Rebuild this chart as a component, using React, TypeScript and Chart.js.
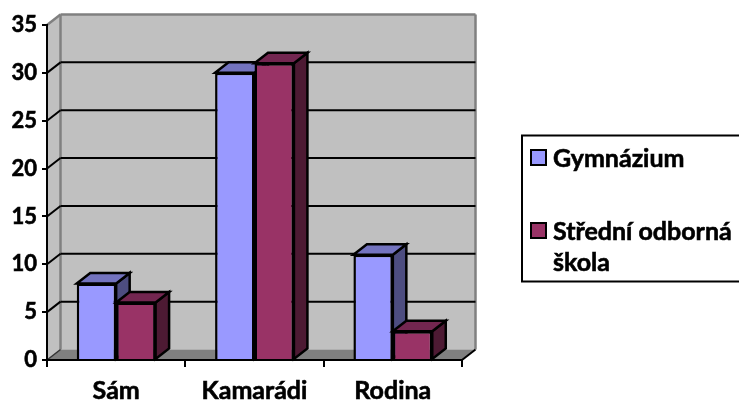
import React, { useEffect, useRef } from "react";
import { Chart, registerables } from "chart.js";

Chart.register(...registerables);

const categories = ["Sám", "Kamarádi", "Rodina"];
const gymnazium = [8, 30, 11];
const stredniSkola = [6, 31, 3];
const seriesNames = ["Gymnázium", "Střední odborná škola"];
const yTicks = [0, 5, 10, 15, 20, 25, 30, 35];

const FONT = "Lato, Carlito, Calibri, sans-serif";
const DX = 13.5;
const DY = 10.5;
const shades = [
  { front: "#9999FF", top: "#7373BF", side: "#4D4D80" },
  { front: "#993366", top: "#732650", side: "#4D1A33" },
];

function poly(ctx: CanvasRenderingContext2D, pts: number[][], fill?: string, stroke?: string, lw = 2) {
  ctx.beginPath();
  pts.forEach(([x, y], i) => (i ? ctx.lineTo(x, y) : ctx.moveTo(x, y)));
  ctx.closePath();
  if (fill) {
    ctx.fillStyle = fill;
    ctx.fill();
  }
  if (stroke) {
    ctx.strokeStyle = stroke;
    ctx.lineWidth = lw;
    ctx.lineJoin = "miter";
    ctx.stroke();
  }
}

function seg(ctx: CanvasRenderingContext2D, x1: number, y1: number, x2: number, y2: number, color: string, lw = 2) {
  ctx.beginPath();
  ctx.moveTo(x1, y1);
  ctx.lineTo(x2, y2);
  ctx.strokeStyle = color;
  ctx.lineWidth = lw;
  ctx.stroke();
}

const wallsPlugin = {
  id: "walls",
  beforeDraw(chart: any) {
    const { ctx, chartArea: a, scales } = chart;
    const { left: l, right: r, top: t, bottom: b } = a;
    ctx.save();
    poly(ctx, [[l + DX, t - DY], [r + DX, t - DY], [r + DX, b - DY], [l + DX, b - DY]], "#C0C0C0");
    poly(ctx, [[l, t], [l + DX, t - DY], [l + DX, b - DY], [l, b]], "#C0C0C0");
    poly(ctx, [[l, b], [l + DX, b - DY], [r + DX, b - DY], [r, b]], "#808080");
    seg(ctx, l, t, l + DX, t - DY, "#808080", 2.5);
    seg(ctx, l + DX, t - DY, r + DX, t - DY, "#808080", 2.5);
    seg(ctx, r + DX, t - DY, r + DX, b - DY, "#808080", 2.5);
    seg(ctx, l + DX, t - DY, l + DX, b - DY, "#808080", 2.5);
    yTicks.slice(1, -1).forEach((v) => {
      const y = scales.y.getPixelForValue(v);
      seg(ctx, l, y, l + DX, y - DY, "#000", 2);
      seg(ctx, l + DX, y - DY, r + DX, y - DY, "#000", 2);
    });
    seg(ctx, l, b, l + DX, b - DY, "#333", 1.5);
    seg(ctx, r, b, r + DX, b - DY, "#000", 2);
    ctx.restore();
  },
};

// Left-to-right painting: the left bar of a group goes first, so the right bar overlaps its 3D faces.
const depthPlugin = {
  id: "depth",
  beforeDatasetsDraw(chart: any) {
    const { ctx } = chart;
    chart.data.datasets.forEach((_: any, i: number) => {
      const meta = chart.getDatasetMeta(i);
      const c = shades[i];
      ctx.save();
      meta.data.forEach((bar: any) => {
        const hw = bar.width / 2;
        const x0 = bar.x - hw;
        const x1 = bar.x + hw;
        const y0 = bar.y;
        const y1 = bar.base;
        poly(ctx, [[x1, y0], [x1 + DX, y0 - DY], [x1 + DX, y1 - DY], [x1, y1]], c.side, "#000", 2.5);
        poly(ctx, [[x0, y0], [x0 + DX, y0 - DY], [x1 + DX, y0 - DY], [x1, y0]], c.top, "#000", 2.5);
      });
      ctx.restore();
      meta.controller.draw();
    });
    return false;
  },
};

const legendPlugin = {
  id: "sideLegend",
  afterDraw(chart: any) {
    const { ctx } = chart;
    ctx.save();
    ctx.strokeStyle = "#000";
    ctx.lineWidth = 2;
    ctx.strokeRect(522, 135.5, 240, 146);
    ctx.font = `bold 25px ${FONT}`;
    ctx.textBaseline = "middle";
    ctx.textAlign = "left";
    const rows = [159, 232];
    chart.data.datasets.forEach((ds: any, i: number) => {
      const y = rows[i];
      ctx.lineWidth = 2;
      ctx.fillStyle = shades[i].front;
      ctx.fillRect(531, y - 9, 15, 15);
      ctx.strokeRect(531, y - 9, 15, 15);
      ctx.fillStyle = "#000";
      const words = String(ds.label).split(" ");
      const lines: string[] = [];
      let cur = "";
      words.forEach((w) => {
        const next = cur ? `${cur} ${w}` : w;
        if (ctx.measureText(next).width > 195 && cur) {
          lines.push(cur);
          cur = w;
        } else cur = next;
      });
      lines.push(cur);
      ctx.lineWidth = 0.6;
      lines.forEach((ln, k) => {
        ctx.fillText(ln, 553, y + k * 31);
        ctx.strokeText(ln, 553, y + k * 31);
      });
    });
    ctx.restore();
  },
};

export default function App() {
  const ref = useRef<HTMLCanvasElement>(null);
  useEffect(() => {
    document.body.style.margin = "0";
    const chart = new Chart(ref.current!, {
      type: "bar",
      data: {
        labels: categories,
        datasets: [
          {
            label: seriesNames[0],
            data: gymnazium,
            backgroundColor: shades[0].front,
            borderColor: "#000",
            borderWidth: 2.5,
            categoryPercentage: 0.57,
            barPercentage: 1,
          },
          {
            label: seriesNames[1],
            data: stredniSkola,
            backgroundColor: shades[1].front,
            borderColor: "#000",
            borderWidth: 2.5,
            categoryPercentage: 0.57,
            barPercentage: 1,
          },
        ],
      },
      options: {
        responsive: false,
        animation: false,
        layout: { padding: { top: 25, right: 277, left: 0, bottom: 0 } },
        plugins: { legend: { display: false }, tooltip: { enabled: false }, title: { display: false } },
        scales: {
          x: {
            afterFit: (s: any) => {
              s.height = 40;
            },
            border: { color: "#000", width: 2 },
            grid: { drawOnChartArea: false, drawTicks: true, tickLength: 7, color: "#000", lineWidth: 2 },
            ticks: {
              color: "#000",
              padding: 9,
              font: { family: FONT, size: 25, weight: "bold" },
              maxRotation: 0,
              textStrokeColor: "#000",
              textStrokeWidth: 0.6,
            },
          },
          y: {
            min: 0,
            max: 35,
            afterFit: (s: any) => {
              s.width = 47;
            },
            border: { color: "#000", width: 2 },
            grid: { drawOnChartArea: false, drawTicks: true, tickLength: 5, color: "#000", lineWidth: 2 },
            ticks: {
              stepSize: 5,
              color: "#000",
              padding: 5,
              font: { family: FONT, size: 22, weight: "bold" },
              textStrokeColor: "#000",
              textStrokeWidth: 0.6,
            },
          },
        },
      },
      plugins: [wallsPlugin, depthPlugin, legendPlugin],
    } as any);
    return () => chart.destroy();
  }, []);
  return <canvas ref={ref} width={739} height={400} style={{ display: "block" }} />;
}
